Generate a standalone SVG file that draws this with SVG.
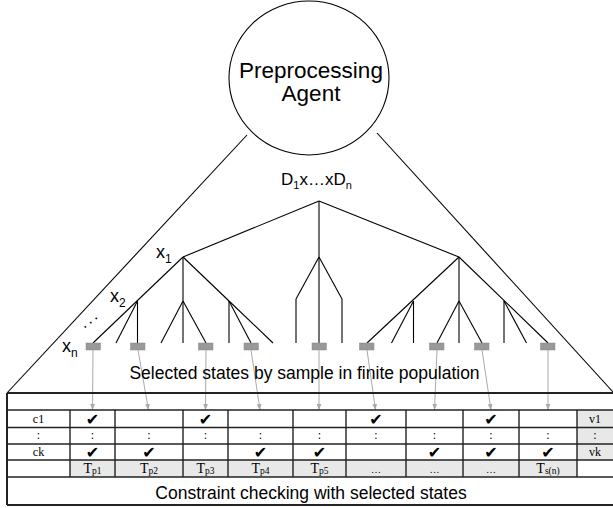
<svg xmlns="http://www.w3.org/2000/svg" width="613" height="508" viewBox="0 0 613 508">
<style>
.sans{font-family:"Liberation Sans",Arial,sans-serif;fill:#000}
.serif{font-family:"Liberation Serif","Times New Roman",serif;fill:#000}
.tl{stroke:#000;stroke-width:1.1;fill:none}
.leaf{fill:#999;stroke:#888;stroke-width:0.5}
.arr{stroke:#aaa;stroke-width:1;fill:none;marker-end:url(#ah)}
.grid{stroke:#222;stroke-width:1.4;fill:none}
.chk{font-family:"DejaVu Sans",sans-serif;font-size:16px;text-anchor:middle;fill:#000}
.lab{font-family:"Liberation Serif",serif;font-size:12px;text-anchor:middle;fill:#000}
.gcell{fill:#e8e8e8}
</style>
<defs>
<marker id="ah" viewBox="0 0 6 6" refX="6" refY="3" markerWidth="6" markerHeight="6" markerUnits="userSpaceOnUse" orient="auto">
<path d="M0,0.6 L6,3 L0,5.4 Z" fill="#aaa"/>
</marker>
</defs>
<rect width="613" height="508" fill="#fff"/>

<g id="agent">
<ellipse cx="309" cy="78" rx="80" ry="77" fill="#fff" stroke="#000" stroke-width="1.1"/>
<text class="sans" x="311" y="78" font-size="22.5" text-anchor="middle">Preprocessing</text>
<text class="sans" x="311" y="101" font-size="22.5" text-anchor="middle">Agent</text>
</g>

<g id="cone">
<line class="tl" x1="247" y1="135" x2="7" y2="393"/>
<line class="tl" x1="377" y1="133" x2="613" y2="392"/>
</g>

<g id="root-label">
<text class="sans" x="281" y="185" font-size="17">D<tspan font-size="11" dy="4">1</tspan><tspan dy="-4">x…xD</tspan><tspan font-size="11" dy="4">n</tspan></text>
</g>

<g id="tree-edges">
<line class="tl" x1="319" y1="201" x2="183" y2="257"/>
<line class="tl" x1="319" y1="201" x2="319" y2="257"/>
<line class="tl" x1="319" y1="201" x2="459" y2="257"/>
<line class="tl" x1="183" y1="257" x2="93" y2="343"/>
<line class="tl" x1="183" y1="257" x2="183" y2="301"/>
<line class="tl" x1="183" y1="257" x2="229" y2="301"/>
<line class="tl" x1="137.5" y1="301" x2="116" y2="343"/>
<line class="tl" x1="137.5" y1="301" x2="137.5" y2="343"/>
<line class="tl" x1="183" y1="301" x2="161" y2="343"/>
<line class="tl" x1="183" y1="301" x2="183" y2="343"/>
<line class="tl" x1="183" y1="301" x2="206" y2="343"/>
<line class="tl" x1="229" y1="301" x2="229" y2="343"/>
<line class="tl" x1="229" y1="301" x2="251" y2="343"/>
<line class="tl" x1="229" y1="301" x2="273" y2="343"/>
<line class="tl" x1="319" y1="257" x2="296" y2="299"/>
<line class="tl" x1="296" y1="299" x2="296" y2="343"/>
<line class="tl" x1="319" y1="257" x2="319" y2="343"/>
<line class="tl" x1="319" y1="257" x2="342" y2="299"/>
<line class="tl" x1="342" y1="299" x2="342" y2="343"/>
<line class="tl" x1="459" y1="257" x2="367" y2="343"/>
<line class="tl" x1="459" y1="257" x2="459" y2="343"/>
<line class="tl" x1="459" y1="257" x2="548" y2="343"/>
<line class="tl" x1="413.5" y1="301" x2="391.5" y2="343"/>
<line class="tl" x1="413.5" y1="301" x2="413.5" y2="343"/>
<line class="tl" x1="459" y1="301" x2="437" y2="343"/>
<line class="tl" x1="459" y1="301" x2="482" y2="343"/>
<line class="tl" x1="504" y1="301" x2="504" y2="343"/>
<line class="tl" x1="504" y1="301" x2="526.5" y2="343"/>
</g>

<g id="level-labels">
<text class="sans" x="156" y="258" font-size="18">x<tspan font-size="12" dy="5">1</tspan></text>
<text class="sans" x="110" y="302" font-size="18">x<tspan font-size="12" dy="5">2</tspan></text>
<text class="sans" x="62" y="352" font-size="18">x<tspan font-size="12" dy="5">n</tspan></text>
<text class="sans" x="84" y="329" font-size="16" letter-spacing="2.5" transform="rotate(-38 84 329)">...</text>
</g>

<g id="leaves">
<g id="leaf1"><rect class="leaf" x="86" y="343" width="14.5" height="7"/></g>
<g id="leaf2"><rect class="leaf" x="130.5" y="343" width="14.5" height="7"/></g>
<g id="leaf3"><rect class="leaf" x="198.5" y="343" width="14.5" height="7"/></g>
<g id="leaf4"><rect class="leaf" x="244" y="343" width="14.5" height="7"/></g>
<g id="leaf5"><rect class="leaf" x="312" y="343" width="14.5" height="7"/></g>
<g id="leaf6"><rect class="leaf" x="359.5" y="343" width="14.5" height="7"/></g>
<g id="leaf7"><rect class="leaf" x="429.5" y="343" width="14.5" height="7"/></g>
<g id="leaf8"><rect class="leaf" x="474.5" y="343" width="14.5" height="7"/></g>
<g id="leaf9"><rect class="leaf" x="540.5" y="343" width="14.5" height="7"/></g>
</g>

<g id="connectors">
<line class="arr" x1="93" y1="350" x2="92.5" y2="410"/>
<line class="arr" x1="138" y1="350" x2="148.5" y2="410"/>
<line class="arr" x1="206" y1="350" x2="205.5" y2="410"/>
<line class="arr" x1="251" y1="350" x2="260" y2="410"/>
<line class="arr" x1="319" y1="350" x2="319" y2="410"/>
<line class="arr" x1="367" y1="350" x2="375.5" y2="410"/>
<line class="arr" x1="437" y1="350" x2="434.5" y2="410"/>
<line class="arr" x1="482" y1="350" x2="491" y2="410"/>
<line class="arr" x1="548" y1="350" x2="548" y2="410"/>
</g>

<g id="sample-label">
<text class="sans" x="304.5" y="379" font-size="17.5" text-anchor="middle">Selected states by sample in finite population</text>
</g>

<g id="table">
<rect class="gcell" x="70" y="460" width="507" height="17"/>
<rect class="gcell" x="577" y="410" width="36" height="50"/>
<line x1="7" y1="393" x2="613" y2="393" stroke="#222" stroke-width="2.2"/>
<line x1="7" y1="393" x2="7" y2="505" stroke="#222" stroke-width="2"/>
<line x1="7" y1="505" x2="613" y2="505" stroke="#222" stroke-width="2"/>
<line class="grid" x1="7" y1="410" x2="613" y2="410"/>
<line class="grid" x1="7" y1="427.5" x2="613" y2="427.5"/>
<line class="grid" x1="7" y1="444" x2="613" y2="444"/>
<line class="grid" x1="7" y1="460" x2="613" y2="460"/>
<line class="grid" x1="7" y1="477" x2="613" y2="477"/>
<path class="grid" d="M70 410V477M115 410V477M183 410V477M228 410V477M293 410V477M346 410V477M406 410V477M463 410V477M519 410V477M577 410V477"/>

<text class="lab" x="38.5" y="423">c1</text>
<text class="lab" x="38.5" y="439">:</text>
<text class="lab" x="38.5" y="456">ck</text>
<text class="lab" x="595" y="423">v1</text>
<text class="lab" x="595" y="439">:</text>
<text class="lab" x="595" y="456">vk</text>

<g class="lab">
<text x="92.5" y="439">:</text><text x="149" y="439">:</text><text x="205.5" y="439">:</text><text x="260.5" y="439">:</text><text x="319.5" y="439">:</text><text x="376" y="439">:</text><text x="434.5" y="439">:</text><text x="491" y="439">:</text><text x="548" y="439">:</text>
</g>

<g class="chk">
<text x="92.5" y="425">✔</text><text x="205.5" y="425">✔</text><text x="376" y="425">✔</text><text x="491" y="425">✔</text>
<text x="92.5" y="458">✔</text><text x="149" y="458">✔</text><text x="260.5" y="458">✔</text><text x="319.5" y="458">✔</text><text x="434.5" y="458">✔</text><text x="491" y="458">✔</text><text x="548" y="458">✔</text>
</g>

<g class="serif" font-size="14" text-anchor="middle">
<text x="92.5" y="473">T<tspan font-size="9.5" dy="1">p1</tspan></text>
<text x="149" y="473">T<tspan font-size="9.5" dy="1">p2</tspan></text>
<text x="205.5" y="473">T<tspan font-size="9.5" dy="1">p3</tspan></text>
<text x="260.5" y="473">T<tspan font-size="9.5" dy="1">p4</tspan></text>
<text x="319.5" y="473">T<tspan font-size="9.5" dy="1">p5</tspan></text>
<text x="376" y="473" font-size="10">…</text>
<text x="434.5" y="473" font-size="10">…</text>
<text x="491" y="473" font-size="10">…</text>
<text x="548" y="473">T<tspan font-size="9.5" dy="1">s(n)</tspan></text>
</g>

<text class="sans" x="311" y="499" font-size="17.5" text-anchor="middle">Constraint checking with selected states</text>
</g>
</svg>
